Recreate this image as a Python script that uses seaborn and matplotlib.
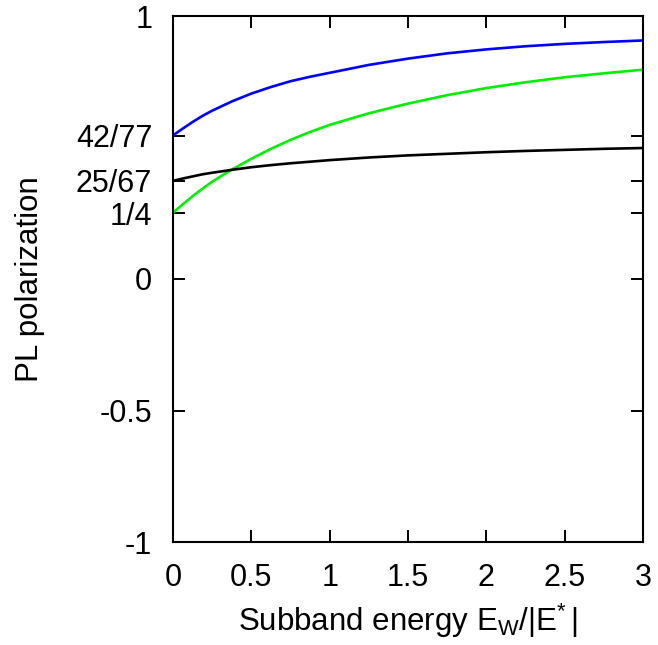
import numpy as np
import pandas as pd
import matplotlib
matplotlib.use("Agg")
import matplotlib.pyplot as plt
import seaborn as sns

# Data
x_vals = [0.0, 0.0625, 0.125, 0.1875, 0.25, 0.375, 0.5, 0.625, 0.75, 0.875, 1.0,
          1.25, 1.5, 1.75, 2.0, 2.25, 2.5, 2.75, 3.0]
blue_vals = [0.546, 0.572, 0.597, 0.620, 0.640, 0.675, 0.705, 0.730, 0.752, 0.769, 0.784,
             0.814, 0.838, 0.858, 0.873, 0.885, 0.894, 0.901, 0.907]
green_vals = [0.252, 0.284, 0.315, 0.343, 0.370, 0.416, 0.457, 0.495, 0.529, 0.559, 0.586,
              0.630, 0.667, 0.699, 0.726, 0.748, 0.767, 0.782, 0.796]
black_vals = [0.373, 0.382, 0.390, 0.398, 0.404, 0.415, 0.425, 0.433, 0.440, 0.446, 0.452,
              0.462, 0.470, 0.476, 0.482, 0.487, 0.491, 0.495, 0.498]

series_names = ["blue", "green", "black"]
series_colors = {"blue": "#0000ff", "green": "#00ee00", "black": "#000000"}

y_ticks = [-1, -0.5, 0, 1/4, 25/67, 42/77, 1]
y_ticklabels = ["-1", "-0.5", "0", "1/4", "25/67", "42/77", "1"]
x_ticks = [0, 0.5, 1, 1.5, 2, 2.5, 3]
x_ticklabels = ["0", "0.5", "1", "1.5", "2", "2.5", "3"]

n = len(x_vals)
df = pd.DataFrame({
    "x": x_vals * 3,
    "y": blue_vals + green_vals + black_vals,
    "series": ["blue"] * n + ["green"] * n + ["black"] * n,
})

sns.set_style("ticks")
plt.rcParams["font.family"] = ["Liberation Sans", "DejaVu Sans"]
plt.rcParams["mathtext.fontset"] = "custom"
plt.rcParams["mathtext.rm"] = "Liberation Sans"
plt.rcParams["mathtext.it"] = "Liberation Sans"
plt.rcParams["text.color"] = "black"
plt.rcParams["axes.labelcolor"] = "black"

fig = plt.figure(figsize=(6.58, 6.45), dpi=100)
ax = fig.add_axes([173/658, (645-542)/645, (643-173)/658, (542-16)/645])

sns.lineplot(data=df, x="x", y="y", hue="series", palette=series_colors,
             hue_order=series_names, ax=ax, linewidth=1.9, legend=False, sort=True)

ax.set_xlim(0, 3)
ax.set_ylim(-1, 1)
ax.set_xticks(x_ticks)
ax.set_xticklabels(x_ticklabels)
ax.set_yticks(y_ticks)
ax.set_yticklabels(y_ticklabels)

ax.tick_params(axis="both", direction="in", length=8.5, width=1.4,
               labelsize=22, top=True, right=True, colors="black", labelcolor="black")
ax.tick_params(axis="y", pad=15)
ax.tick_params(axis="x", pad=15)
for s in ax.spines.values():
    s.set_linewidth(1.5)
    s.set_color("black")
    s.set_visible(True)

ax.set_xlabel(r"Subband energy E$_\mathregular{W}$/|E$^\mathregular{*}\,$|", fontsize=22.5)
ax.set_ylabel("PL polarization", fontsize=22.5)
ax.xaxis.set_label_coords(0.5, -(602 - 542) / 526)
ax.yaxis.set_label_coords((45 - 173) / 470, 0.5)

fig.savefig("out.png", dpi=100)
